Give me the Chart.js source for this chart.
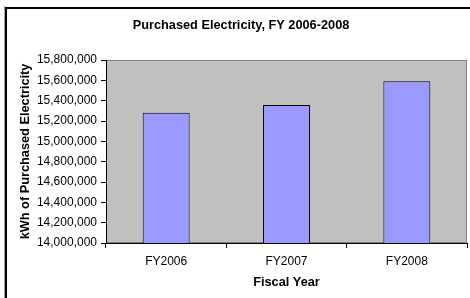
<!DOCTYPE html>
<html>
<head>
<meta charset="utf-8">
<script src="https://cdn.jsdelivr.net/npm/chart.js@4.4.1/dist/chart.umd.min.js"></script>
<style>
  html, body { margin: 0; padding: 0; background: #fff; }
  #wrap { width: 470px; height: 298px; }
</style>
</head>
<body>
<div id="wrap"><canvas id="elecChart" width="470" height="298"></canvas></div>
<script>
const years = ['FY2006', 'FY2007', 'FY2008'];
const kwhPurchased = [15280000, 15358000, 15590000];
const yMin = 14000000;
const yMax = 15800000;
const yStep = 200000;

// frame + grey plot background like the Excel chart
const excelBackground = {
    id: 'excelBackground',
    afterLayout(chart) {
        // title is centred on the original (wider) chart frame, not the canvas
        if (chart.titleBlock) {
            chart.titleBlock.left = 15;
            chart.titleBlock.right = 467;
        }
    },
    beforeDraw(chart) {
        const ctx = chart.ctx;
        const a = chart.chartArea;
        ctx.save();
        ctx.fillStyle = '#ffffff';
        ctx.fillRect(0, 0, chart.width, chart.height);
        // outer frame (only left and top are visible in the crop)
        ctx.fillStyle = '#a0a0a0';
        ctx.fillRect(4, 6, 1, chart.height);
        ctx.fillStyle = '#000000';
        ctx.fillRect(5, 7, 2, chart.height);
        ctx.fillRect(5, 7, chart.width, 2);
        // plot area
        ctx.fillStyle = '#c0c0c0';
        ctx.fillRect(a.left, a.top, a.right - a.left, a.bottom - a.top);
        ctx.strokeStyle = '#808080';
        ctx.lineWidth = 1;
        ctx.strokeRect(a.left + 0.5, a.top + 0.5, a.right - a.left - 1, a.bottom - a.top - 1);
        ctx.restore();
    }
};

const ctx = document.getElementById('elecChart').getContext('2d');
const elecChart = new Chart(ctx, {
    type: 'bar',
    data: {
        labels: years,
        datasets: [{
            label: 'Purchased Electricity',
            data: kwhPurchased,
            backgroundColor: '#9999ff',
            borderColor: '#000000',
            borderWidth: 1,
            borderSkipped: false,
            barPercentage: 0.39,
            categoryPercentage: 1.0
        }]
    },
    options: {
        responsive: false,
        animation: false,
        devicePixelRatio: 1,
        layout: { padding: { left: 0, top: 0, right: 3, bottom: 0 } },
        plugins: {
            legend: { display: false },
            tooltip: { enabled: false },
            title: {
                display: true,
                text: 'Purchased Electricity, FY 2006-2008',
                color: '#000000',
                font: { family: 'Liberation Sans, Arial, sans-serif', size: 12.75, weight: 'bold' },
                padding: { top: 17.35, bottom: 27.35 }
            }
        },
        scales: {
            x: {
                afterFit: function(scale) { scale.height = 55; },
                grid: {
                    display: true,
                    offset: true,
                    drawOnChartArea: false,
                    drawTicks: true,
                    tickLength: 5,
                    color: '#000000'
                },
                border: { display: true, color: '#000000', width: 1 },
                ticks: {
                    color: '#000000',
                    padding: 6.5,
                    font: { family: 'Liberation Sans, Arial, sans-serif', size: 12 }
                },
                title: {
                    display: true,
                    text: 'Fiscal Year',
                    color: '#000000',
                    font: { family: 'Liberation Sans, Arial, sans-serif', size: 12.75, weight: 'bold' },
                    padding: { top: 0, bottom: 7.65 }
                }
            },
            y: {
                min: yMin,
                max: yMax,
                afterFit: function(scale) { scale.width = 106; },
                grid: {
                    display: true,
                    drawOnChartArea: false,
                    drawTicks: true,
                    tickLength: 5,
                    color: '#000000'
                },
                border: { display: true, color: '#000000', width: 1 },
                ticks: {
                    stepSize: yStep,
                    color: '#000000',
                    padding: 4,
                    font: { family: 'Liberation Sans, Arial, sans-serif', size: 12 },
                    callback: function(value) { return value.toLocaleString('en-US'); }
                },
                title: {
                    display: true,
                    text: 'kWh of Purchased Electricity',
                    color: '#000000',
                    font: { family: 'Liberation Sans, Arial, sans-serif', size: 12.75, weight: 'bold' },
                    padding: { top: 18, bottom: 0 }
                }
            }
        }
    },
    plugins: [excelBackground]
});
</script>
</body>
</html>
